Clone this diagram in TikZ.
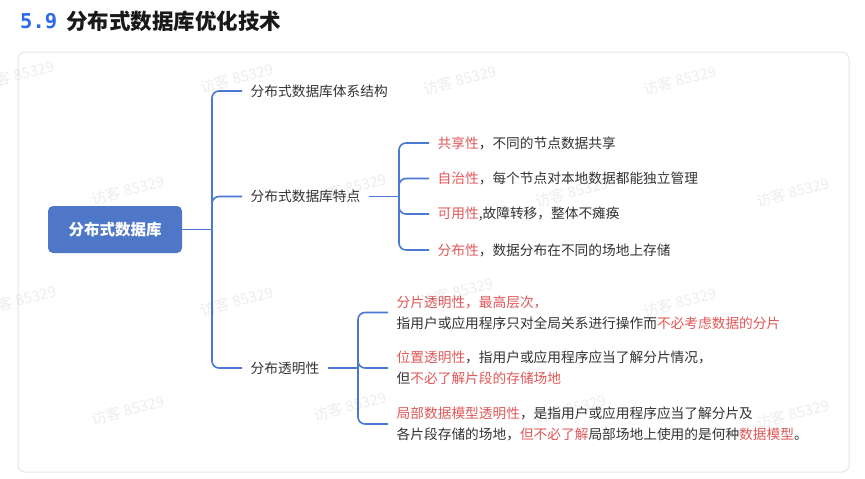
\documentclass[tikz,border=0pt]{standalone}
\usepackage{fontspec}
\setmainfont{Noto Sans CJK SC}
\newfontfamily\monofont{DejaVu Sans Mono}
\definecolor{linkblue}{HTML}{4A78D4}
\definecolor{rootblue}{HTML}{4F77C8}
\definecolor{hired}{HTML}{E05858}
\definecolor{txt}{HTML}{333333}
\definecolor{titleblue}{HTML}{2B6AF0}
\definecolor{cardline}{HTML}{E6E6E6}
\newcommand{\hl}[1]{\textcolor{hired}{#1}}
\tikzset{
  link/.style={draw=linkblue, line width=1.6pt, rounded corners=7pt},
  rootbox/.style={fill=rootblue, rounded corners=5pt, minimum width=134pt, minimum height=47pt,
    text=white, font=\fontsize{15.5}{18}\selectfont\bfseries, inner sep=0pt},
  label/.style={inner xsep=8.5pt, inner ysep=2pt, text=txt, font=\fontsize{13.7}{21}\selectfont, align=left},
  wm/.style={text=black, opacity=0.07, rotate=15, font=\fontsize{15}{18}\selectfont}
}
\begin{document}
\begin{tikzpicture}[x=1pt,y=-1pt]
\useasboundingbox (0,0) rectangle (865,479);
\fill[white] (0,0) rectangle (865,479);
% title
\node[anchor=west, inner sep=0pt, text=titleblue, font=\fontsize{20.5}{24}\monofont\bfseries] (num) at (20,21) {5.9};
\node[anchor=west, inner sep=0pt, text=black!90, font=\fontsize{21.5}{26}\selectfont\bfseries] (title) at (66,21) {分布式数据库优化技术};
% card
\draw[cardline, line width=1pt, rounded corners=7pt] (18,52) rectangle (849,472);
% root
\node[rootbox] (root) at (115,229.5) {分布式数据库};
\coordinate (j1) at (212,229.5);
% level 1
\node[label, anchor=west] (arch) at (242,91) {分布式数据库体系结构};
\node[label, anchor=west] (feat) at (242,196.5) {分布式数据库特点};
\node[label, anchor=west] (trans) at (242,368) {分布透明性};
\draw[link] (root.east) -- (j1);
\draw[link] (j1) -- (j1 |- arch.west) -- (arch.west);
\draw[link] (j1) -- (j1 |- feat.west) -- (feat.west);
\draw[link] (j1) -- (j1 |- trans.west) -- (trans.west);
% level 2 features
\coordinate (j2) at (399,196.5);
\node[label, anchor=west] (f1) at (429,143) {\hl{共享性}，不同的节点数据共享};
\node[label, anchor=west] (f2) at (429,178.5) {\hl{自治性}，每个节点对本地数据都能独立管理};
\node[label, anchor=west] (f3) at (429,214) {\hl{可用性},故障转移，整体不瘫痪};
\node[label, anchor=west] (f4) at (429,250) {\hl{分布性}，数据分布在不同的场地上存储};
\draw[link] (feat.east) -- (j2);
\foreach \n in {f1,f2,f3,f4} \draw[link] (j2) -- (j2 |- \n.west) -- (\n.west);
% level 2 transparency
\coordinate (j3) at (358,368);
\node[label, anchor=west] (t1) at (388,312.5) {\hl{分片透明性，最高层次，}\\指用户或应用程序只对全局关系进行操作而\hl{不必考虑数据的分片}};
\node[label, anchor=west] (t2) at (388,368) {\hl{位置透明性}，指用户或应用程序应当了解分片情况，\\但\hl{不必了解片段的存储场地}};
\node[label, anchor=west] (t3) at (388,424) {\hl{局部数据模型透明性}，是指用户或应用程序应当了解分片及\\各片段存储的场地，\hl{但不必了解}局部场地上使用的是何种\hl{数据模型}。};
\draw[link] (trans.east) -- (j3);
\foreach \n in {t1,t2,t3} \draw[link] (j3) -- (j3 |- \n.west) -- (\n.west);
% watermarks
\foreach \x/\y in {18/75, 237/78, 460/80, 680/80, 128/190, 350/188, 572/192, 793/192, 20/300, 237/301, 457/292, 680/302, 128/410, 350/406, 570/409, 793/414}
  \node[wm] at (\x,\y) {访客 85329};
\end{tikzpicture}
\end{document}
